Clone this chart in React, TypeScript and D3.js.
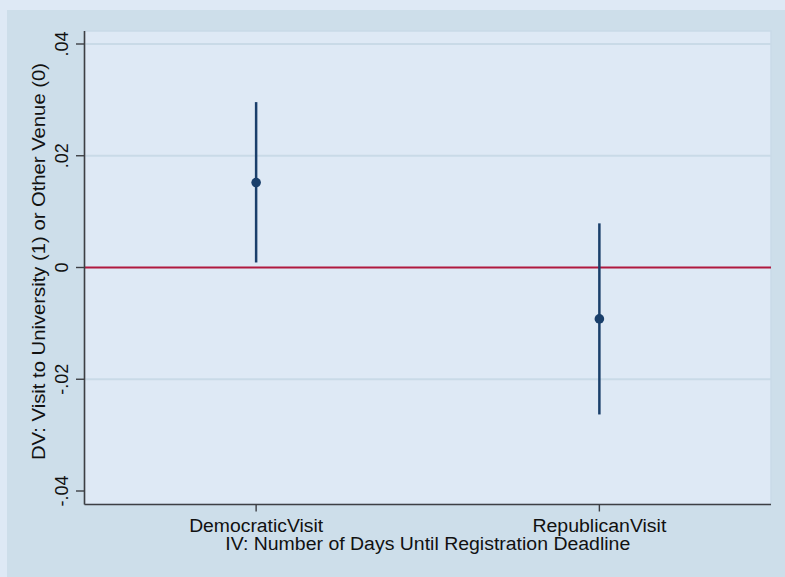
import React from "react";
import * as d3 from "d3";

const categories = ["DemocraticVisit", "RepublicanVisit"];
const estimates = [0.0152, -0.0092];
const lowerCI = [0.0009, -0.0263];
const upperCI = [0.0296, 0.0079];
const yTicks = [0.04, 0.02, 0, -0.02, -0.04];
const yTickLabels = [".04", ".02", "0", "-.02", "-.04"];
const gridTicks = [0.04, 0.02, -0.02];

const W = 785;
const H = 577;
const left = 84.5;
const right = 771;
const top = 31;
const bottom = 504.5;

export default function App() {
  const x = d3.scalePoint<string>().domain(categories).range([left, right]).padding(0.5);
  const y = d3.scaleLinear().domain([-0.04, 0.04]).range([491, 44]);
  const font = "'Liberation Sans', Arial, sans-serif";
  return (
    <div style={{ position: "fixed", left: 0, top: 0 }}>
      <svg width={W} height={H} style={{ display: "block" }}>
        <rect x={0} y={0} width={W} height={H} fill="#dee9f5" />
        <rect x={7} y={10} width={W - 7} height={H - 10} fill="#cddeea" />
        <rect x={left} y={top} width={right - left} height={bottom - top} fill="#dee9f5" stroke="#c9dae8" strokeWidth={1.5} />
        {gridTicks.map((t) => (
          <line key={t} x1={left} x2={right} y1={y(t)} y2={y(t)} stroke="#c9dae7" strokeWidth={2} />
        ))}
        <line x1={left} x2={right} y1={y(0)} y2={y(0)} stroke="#b0193f" strokeWidth={2} />
        {categories.map((c, i) => (
          <g key={c}>
            <line x1={x(c)} x2={x(c)} y1={y(lowerCI[i])} y2={y(upperCI[i])} stroke="#1a3f6b" strokeWidth={2.5} />
            <circle cx={x(c)} cy={y(estimates[i])} r={4.8} fill="#1a3f6b" />
          </g>
        ))}
        {/* axes */}
        <line x1={left} x2={left} y1={top} y2={bottom} stroke="#3d3f44" strokeWidth={1.6} />
        <line x1={left} x2={right} y1={bottom} y2={bottom} stroke="#3d3f44" strokeWidth={1.6} />
        {yTicks.map((t, i) => (
          <g key={t}>
            <line x1={76} x2={left} y1={y(t)} y2={y(t)} stroke="#3d3f44" strokeWidth={1.4} />
            <text
              transform={`translate(68,${y(t)}) rotate(-90)`}
              textAnchor="middle"
              fontFamily={font}
              fontSize={18}
              fill="#111"
            >
              {yTickLabels[i]}
            </text>
          </g>
        ))}
        {categories.map((c) => (
          <g key={c}>
            <line x1={x(c)} x2={x(c)} y1={bottom} y2={bottom + 7} stroke="#3d3f44" strokeWidth={1.4} />
            <text
              x={x(c)}
              y={532}
              textAnchor="middle"
              fontFamily={font}
              fontSize={18}
              fill="#111"
              textLength={134}
              lengthAdjust="spacingAndGlyphs"
            >
              {c}
            </text>
          </g>
        ))}
        <text
          x={(left + right) / 2}
          y={550}
          textAnchor="middle"
          fontFamily={font}
          fontSize={18}
          fill="#111"
          textLength={405}
          lengthAdjust="spacingAndGlyphs"
        >
          IV: Number of Days Until Registration Deadline
        </text>
        <text
          transform={`translate(45,261.5) rotate(-90)`}
          textAnchor="middle"
          fontFamily={font}
          fontSize={18}
          fill="#111"
          textLength={397}
          lengthAdjust="spacingAndGlyphs"
        >
          DV: Visit to University (1) or Other Venue (0)
        </text>
      </svg>
    </div>
  );
}
